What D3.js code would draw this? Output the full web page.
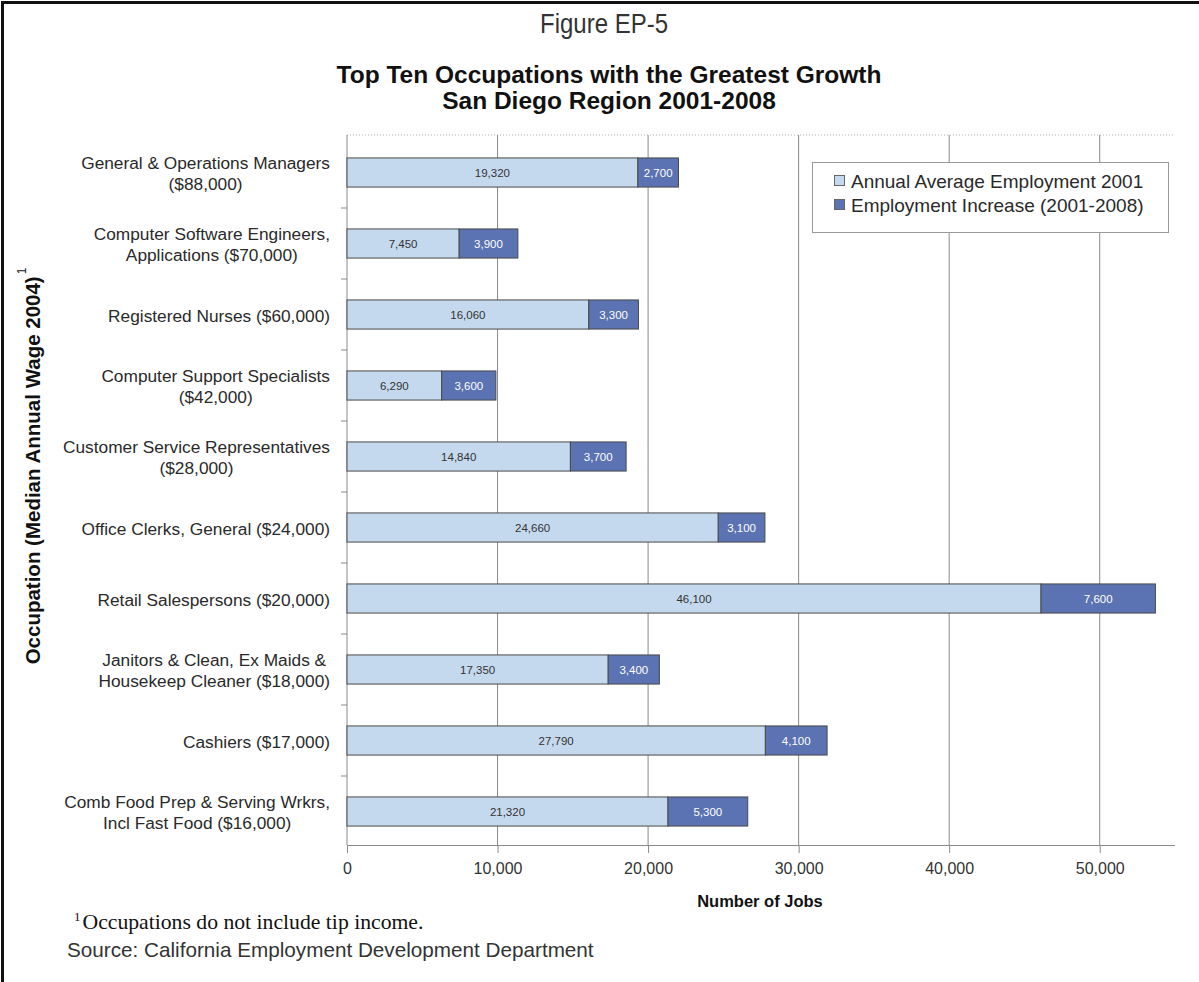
<!DOCTYPE html>
<html>
<head>
<meta charset="utf-8">
<script src="https://cdn.jsdelivr.net/npm/d3@7/dist/d3.min.js"></script>
<style>
  html, body { margin: 0; padding: 0; background: #ffffff; }
  svg { display: block; }
</style>
</head>
<body>
<svg id="chart" width="1199" height="982"></svg>
<script>
// Occupations (top to bottom) with median annual wage, split over display lines
const occupationLines = [
  ["General & Operations Managers", "($88,000)"],
  ["Computer Software Engineers,", "Applications ($70,000)"],
  ["Registered Nurses ($60,000)"],
  ["Computer Support Specialists", "($42,000)"],
  ["Customer Service Representatives", "($28,000)"],
  ["Office Clerks, General ($24,000)"],
  ["Retail Salespersons ($20,000)"],
  ["Janitors & Clean, Ex Maids &", "Housekeep Cleaner ($18,000)"],
  ["Cashiers ($17,000)"],
  ["Comb Food Prep & Serving Wrkrs,", "Incl Fast Food ($16,000)"]
];
// Annual average employment, 2001
const employment2001 = [19320, 7450, 16060, 6290, 14840, 24660, 46100, 17350, 27790, 21320];
// Employment increase, 2001-2008
const employmentIncrease = [2700, 3900, 3300, 3600, 3700, 3100, 7600, 3400, 4100, 5300];
// Series names and x-axis ticks
const seriesNames = ["Annual Average Employment 2001", "Employment Increase (2001-2008)"];
const xTicks = [0, 10000, 20000, 30000, 40000, 50000];
const xMax = 55000;

const colors = { base: "#c5d9ee", increase: "#5b73b2", edge: "#4a4a4a", grid: "#8a8a8a", text: "#2a2a2a" };
const sans = "'Liberation Sans', Arial, Helvetica, sans-serif";
const serif = "'Liberation Serif', 'Times New Roman', serif";

const svg = d3.select("#chart");

// Outer frame (top and left edges of the figure box)
svg.append("path")
  .attr("d", "M2.5,982 V2.5 H1199")
  .attr("fill", "none").attr("stroke", "#111").attr("stroke-width", 3);

const plot = { left: 347, right: 1175, top: 135, bottom: 845 };

const x = d3.scaleLinear().domain([0, xMax]).range([plot.left, plot.right]);
const yRange = [137, 847];
const y = d3.scaleBand().domain(d3.range(occupationLines.length)).range(yRange).paddingInner(0.59).paddingOuter(0.295);
const yStep = d3.scaleBand().domain(d3.range(occupationLines.length)).range(yRange);

// Headings
svg.append("text").attr("x", 604).attr("y", 33).attr("text-anchor", "middle")
  .attr("font-family", sans).attr("font-size", 27).attr("fill", "#333")
  .attr("textLength", 128).attr("lengthAdjust", "spacingAndGlyphs")
  .text("Figure EP-5");
svg.append("text").attr("x", 609).attr("y", 83).attr("text-anchor", "middle")
  .attr("font-family", sans).attr("font-weight", "bold").attr("font-size", 24.5).attr("fill", "#111")
  .text("Top Ten Occupations with the Greatest Growth");
svg.append("text").attr("x", 609).attr("y", 109).attr("text-anchor", "middle")
  .attr("font-family", sans).attr("font-weight", "bold").attr("font-size", 24.5).attr("fill", "#111")
  .text("San Diego Region 2001-2008");

// Dotted top edge of the plot area
svg.append("line")
  .attr("x1", plot.left).attr("x2", plot.right).attr("y1", plot.top).attr("y2", plot.top)
  .attr("stroke", "#b0b0b0").attr("stroke-width", 1).attr("stroke-dasharray", "1,2");

// Vertical gridlines
svg.append("g").selectAll("line")
  .data(xTicks.filter(d => d > 0))
  .join("line")
  .attr("x1", d => x(d)).attr("x2", d => x(d))
  .attr("y1", plot.top).attr("y2", plot.bottom)
  .attr("stroke", colors.grid).attr("stroke-width", 1);

// X axis
const xAxis = svg.append("g").attr("transform", `translate(0,${plot.bottom})`)
  .call(d3.axisBottom(x).tickValues(xTicks).tickFormat(d3.format(",")).tickSize(8).tickPadding(10));
xAxis.select(".domain").attr("stroke", colors.grid).attr("d", `M${plot.left},0.5H${plot.right}`);
xAxis.selectAll(".tick line").attr("stroke", colors.grid);
xAxis.selectAll(".tick text").attr("font-family", sans).attr("font-size", 16).attr("fill", "#333");

// Y axis line with ticks between categories
const yAxisG = svg.append("g");
yAxisG.append("line").attr("x1", plot.left).attr("x2", plot.left)
  .attr("y1", plot.top).attr("y2", plot.bottom).attr("stroke", colors.grid);
yAxisG.selectAll("line.tk")
  .data(d3.range(1, occupationLines.length))
  .join("line").attr("class", "tk")
  .attr("x1", plot.left - 6).attr("x2", plot.left)
  .attr("y1", i => yStep(i)).attr("y2", i => yStep(i))
  .attr("stroke", colors.grid);

// Category labels: wrapped lines centred on each other, right edge aligned
const labelRight = 330;
const lineGap = 20.5;
const catG = svg.append("g").attr("font-family", sans).attr("font-size", 17.3).attr("fill", colors.text);
occupationLines.forEach((lines, i) => {
  const cy = y(i) + y.bandwidth() / 2 + 1;
  const t = catG.append("text").attr("text-anchor", "middle");
  lines.forEach((ln, k) => {
    t.append("tspan").attr("x", 0)
      .attr("y", cy + (k - (lines.length - 1) / 2) * lineGap)
      .attr("dominant-baseline", "central").text(ln);
  });
  let maxW = 0;
  t.selectAll("tspan").each(function () { maxW = Math.max(maxW, this.getComputedTextLength()); });
  t.selectAll("tspan").attr("x", labelRight - maxW / 2);
});

// Stacked bars
const rows = employment2001.map((v, i) => ({ i, base: v, inc: employmentIncrease[i] }));
const barG = svg.append("g");
barG.selectAll("rect.base").data(rows).join("rect").attr("class", "base")
  .attr("x", d => x(0)).attr("y", d => y(d.i))
  .attr("width", d => x(d.base) - x(0)).attr("height", y.bandwidth())
  .attr("fill", colors.base).attr("stroke", colors.edge).attr("stroke-width", 1);
barG.selectAll("rect.inc").data(rows).join("rect").attr("class", "inc")
  .attr("x", d => x(d.base)).attr("y", d => y(d.i))
  .attr("width", d => x(d.base + d.inc) - x(d.base)).attr("height", y.bandwidth())
  .attr("fill", colors.increase).attr("stroke", colors.edge).attr("stroke-width", 1);

// Value labels inside the segments
const fmt = d3.format(",");
barG.selectAll("text.base").data(rows).join("text").attr("class", "base")
  .attr("x", d => x(d.base / 2)).attr("y", d => y(d.i) + y.bandwidth() / 2)
  .attr("text-anchor", "middle").attr("dominant-baseline", "central")
  .attr("font-family", sans).attr("font-size", 11.5).attr("fill", "#333")
  .text(d => fmt(d.base));
barG.selectAll("text.inc").data(rows).join("text").attr("class", "inc")
  .attr("x", d => x(d.base + d.inc / 2)).attr("y", d => y(d.i) + y.bandwidth() / 2)
  .attr("text-anchor", "middle").attr("dominant-baseline", "central")
  .attr("font-family", sans).attr("font-size", 11.5).attr("fill", "#ffffff")
  .text(d => fmt(d.inc));

// Axis titles
svg.append("text").attr("x", 760).attr("y", 901).attr("text-anchor", "middle")
  .attr("dominant-baseline", "central")
  .attr("font-family", sans).attr("font-weight", "bold").attr("font-size", 16.5).attr("fill", "#111")
  .text("Number of Jobs");
const yTitle = svg.append("text").attr("transform", "translate(32,466) rotate(-90)")
  .attr("text-anchor", "middle").attr("dominant-baseline", "central")
  .attr("font-family", sans).attr("font-weight", "bold").attr("font-size", 20.5).attr("fill", "#111");
yTitle.append("tspan").text("Occupation (Median Annual Wage 2004)");
yTitle.append("tspan").attr("font-size", 12).attr("font-weight", "normal").attr("dy", -10).attr("dx", 2).text("1");

// Legend
const lg = svg.append("g");
lg.append("rect").attr("x", 812.5).attr("y", 162.5).attr("width", 356).attr("height", 70)
  .attr("fill", "#fff").attr("stroke", "#9a9a9a");
[colors.base, colors.increase].forEach((c, k) => {
  const cy = 181 + k * 24;
  lg.append("rect").attr("x", 834.5).attr("y", cy - 5.5).attr("width", 10).attr("height", 10)
    .attr("fill", c).attr("stroke", "#666");
  lg.append("text").attr("x", 851).attr("y", cy).attr("dominant-baseline", "central")
    .attr("font-family", sans).attr("font-size", 19).attr("fill", colors.text)
    .text(seriesNames[k]);
});

// Footnote and source
const note = svg.append("text").attr("x", 74).attr("y", 929)
  .attr("font-family", serif).attr("font-size", 21.7).attr("fill", "#111");
note.append("tspan").attr("font-size", 13).attr("dy", -8).text("1");
note.append("tspan").attr("dy", 8).attr("dx", 2).text("Occupations do not include tip income.");
svg.append("text").attr("x", 67).attr("y", 957)
  .attr("font-family", sans).attr("font-size", 20.7).attr("fill", "#333")
  .text("Source: California Employment Development Department");
</script>
</body>
</html>
